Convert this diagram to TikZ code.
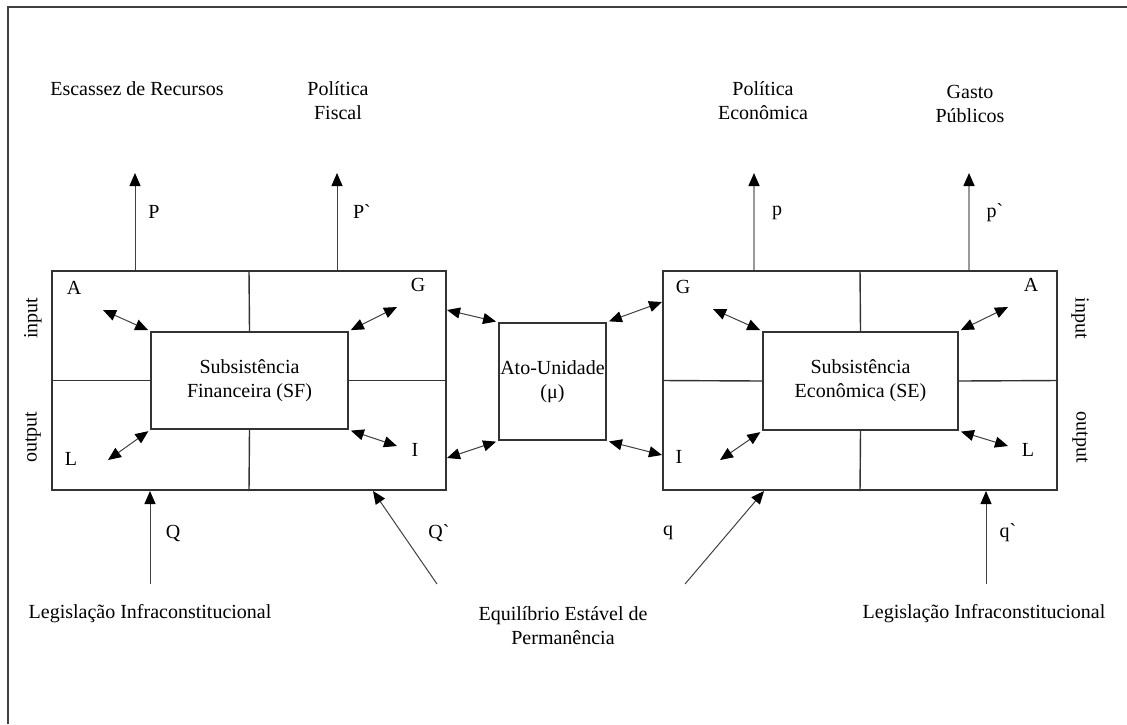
\documentclass[tikz,border=0pt]{standalone}
\usepackage{fontspec}
\setmainfont{Liberation Serif}[Ligatures=TeXOff]
\usetikzlibrary{arrows.meta}

\begin{document}
\begin{tikzpicture}[x=0.5pt,y=0.5pt,yscale=-1,xscale=1,
  lbl/.style={inner sep=0.75pt,font=\fontsize{10}{12}\selectfont,align=center},
  box/.style={draw=black!80,line width=1pt,inner sep=0pt,fill=white},
  sep/.style={draw=black!80,line width=0.7pt},
  arr/.style={line width=0.5pt,draw=black!75,-{Triangle[length=6.5pt,width=5.5pt,color=black]}},
  grarr/.style={line width=0.8pt,draw=black!40,-{Triangle[length=6.5pt,width=5.5pt,color=black]}},
  dblarr/.style={line width=0.5pt,draw=black!75,shorten >=1pt,{Triangle[length=6.5pt,width=5.5pt,color=black]}-{Triangle[length=6.5pt,width=5.5pt,color=black]}}]
\useasboundingbox (0,0) rectangle (1127,724);
\draw[line width=1pt,black!75] (8,724) -- (8,7) -- (1127,7);

% subsistencia financeira
\node[box,minimum width=197pt,minimum height=109.5pt] (sf) at (249,380.5) {};
\node[lbl,box,minimum width=98.5pt,minimum height=48.5pt] (sfin) at (249.5,380.5) {Subsistência\\Financeira (SF)};
\draw[sep] (sf.north) -- (sfin.north);
\draw[sep] (sfin.south) -- (sf.south);
\draw[sep] (sf.west) -- (sfin.west);
\draw[sep] (sfin.east) -- (sf.east);
\node[lbl] (sfA) at (74,288) {A};
\node[lbl] (sfG) at (418,285) {G};
\node[lbl] (sfL) at (71,459) {L};
\node[lbl] (sfI) at (415,450) {I};
\node[lbl,rotate=90] (sfinput) at (33,318) {input};
\node[lbl,rotate=90] (sfoutput) at (33,437) {output};
\coordinate (sfa) at (103,310);
\coordinate (sfg) at (397,307);
\coordinate (sfl) at (108,460);
\coordinate (sfi) at (397,446);
\draw[dblarr] (sfa) -- (sfin.north west);
\draw[dblarr] (sfg) -- (sfin.north east);
\draw[dblarr] (sfl) -- (sfin.south west);
\draw[dblarr] (sfi) -- (sfin.south east);

% ato-unidade
\node[lbl,box,minimum width=53.5pt,minimum height=58.5pt] (ato) at (552.5,381.5) {Ato-Unidade\\(μ)};

% subsistencia economica
\node[box,minimum width=197pt,minimum height=109.5pt] (se) at (860,380.5) {};
\node[lbl,box,minimum width=97.5pt,minimum height=49pt] (sein) at (860.5,381) {Subsistência\\Econômica (SE)};
\draw[sep] (se.north) -- (sein.north);
\draw[sep] (sein.south) -- (se.south);
\draw[sep] (se.west) -- (sein.west);
\draw[sep] (sein.east) -- (se.east);
\node[lbl] (seG) at (683,287) {G};
\node[lbl] (seA) at (1031,285) {A};
\node[lbl] (seI) at (679,457) {I};
\node[lbl] (seL) at (1028,450) {L};
\node[lbl,rotate=-90] (seinput) at (1080,318) {input};
\node[lbl,rotate=-90] (seoutput) at (1080,437) {output};
\coordinate (seg) at (713,309);
\coordinate (sea) at (1008,307);
\coordinate (sei) at (720,460);
\coordinate (sel) at (1008,446);
\draw[dblarr] (seg) -- (sein.north west);
\draw[dblarr] (sea) -- (sein.north east);
\draw[dblarr] (sei) -- (sein.south west);
\draw[dblarr] (sel) -- (sein.south east);

% ligacoes com o ato-unidade
\draw[dblarr] (sf.east |- 0,310) -- (ato.north west);
\draw[dblarr] (sf.east |- 0,458) -- (ato.south west);
\draw[dblarr] (se.west |- 0,302) -- (ato.north east);
\draw[dblarr] (se.west |- 0,455) -- (ato.south east);

% saidas
\node[lbl] (escassez) at (137,89) {Escassez de Recursos};
\node[lbl] (polfiscal) at (338,101) {Política\\Fiscal};
\node[lbl] (poleco) at (763,101) {Política\\Econômica};
\node[lbl] (gasto) at (970,104) {Gasto\\Públicos};
\coordinate (pP) at (135,173);
\coordinate (pPp) at (337,173);
\coordinate (pp) at (754,173);
\coordinate (ppp) at (969,173);
\draw[arr] (pP |- sf.north) -- (pP);
\draw[arr] (pPp |- sf.north) -- (pPp);
\draw[grarr] (pp |- se.north) -- (pp);
\draw[grarr] (ppp |- se.north) -- (ppp);
\node[lbl] (lP) at (154,212) {P};
\node[lbl] (lPp) at (362,212) {P`};
\node[lbl] (lp) at (777,213) {p};
\node[lbl] (lpp) at (995,213) {p`};

% entradas
\node[lbl] (leg1) at (150,614) {Legislação Infraconstitucional};
\node[lbl] (equil) at (563,626) {Equilíbrio Estável de\\Permanência};
\node[lbl] (leg2) at (984,614) {Legislação Infraconstitucional};
\coordinate (qQ) at (150,584);
\coordinate (qQp) at (437,584);
\coordinate (qq) at (685,584);
\coordinate (qqp) at (986,584);
\draw[arr] (qQ) -- (qQ |- sf.south);
\draw[arr] (qQp) -- (sf.south -| 373,0);
\draw[arr] (qq) -- (se.south -| 764,0);
\draw[arr] (qqp) -- (qqp |- se.south);
\node[lbl] (lQ) at (173,533) {Q};
\node[lbl] (lQp) at (439,533) {Q`};
\node[lbl] (lq) at (668,533) {q};
\node[lbl] (lqp) at (1008,533) {q`};
\end{tikzpicture}
\end{document}
